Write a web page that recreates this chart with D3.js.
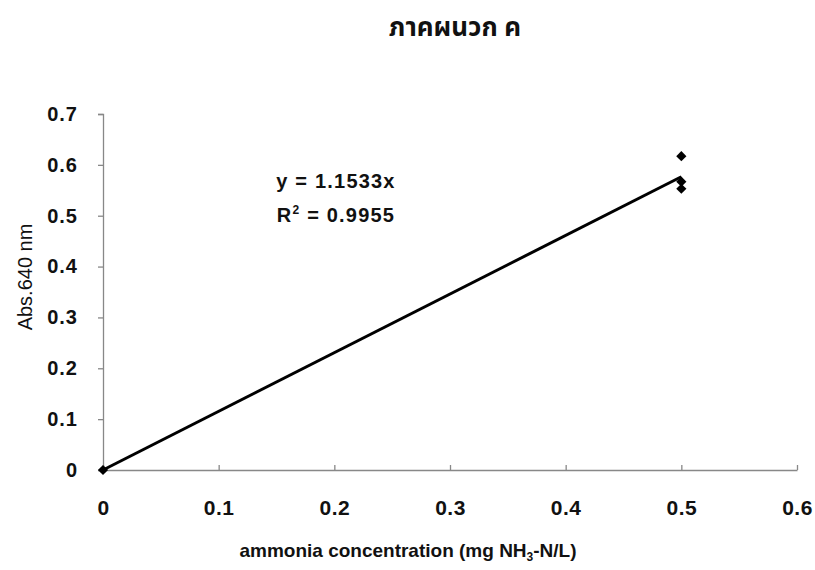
<!DOCTYPE html>
<html><head><meta charset="utf-8">
<script src="https://cdn.jsdelivr.net/npm/d3@7"></script>
<style>body{margin:0;background:#fff}svg{display:block}</style>
</head><body>
<svg id="c" width="815" height="570"></svg>
<script>
const xVals = [0, 0.5, 0.5, 0.5];
const yVals = [0, 0.617, 0.567, 0.553];
const slope = 1.1533;
const r2 = "0.9955";
const xTicks = [0, 0.1, 0.2, 0.3, 0.4, 0.5, 0.6];
const yTicks = [0, 0.1, 0.2, 0.3, 0.4, 0.5, 0.6, 0.7];

const svg = d3.select("#c");
const font = "'Liberation Sans', Arial, sans-serif";
const x = d3.scaleLinear().domain([0, 0.6]).range([103, 797]);
const y = d3.scaleLinear().domain([0, 0.7]).range([470, 114]);

svg.append("text").attr("x", 455).attr("y", 36).attr("text-anchor", "middle")
  .attr("font-family", "'Noto Sans Thai','Noto Sans','DejaVu Sans',sans-serif")
  .attr("font-weight", "bold").attr("font-size", 26).attr("fill", "#111").text("ภาคผนวก ค");

// y axis
const ya = svg.append("g").attr("transform", `translate(${x(0)},0)`)
  .call(d3.axisLeft(y).tickValues(yTicks).tickSize(5).tickPadding(20).tickFormat(d => d === 0 ? "0" : d3.format(".1f")(d)));
ya.select(".domain").attr("stroke", "#888").attr("stroke-width", 1.3);
ya.selectAll(".tick line").attr("stroke", "#888").attr("stroke-width", 1.3);
ya.selectAll("text").attr("font-family", font).attr("font-weight", "bold").attr("font-size", 20).attr("letter-spacing", 1).attr("fill", "#111");

// x axis
const xa = svg.append("g").attr("transform", `translate(0,${y(0)})`)
  .call(d3.axisBottom(x).tickValues(xTicks).tickSizeInner(-5).tickSizeOuter(0).tickPadding(30).tickFormat(d => d === 0 ? "0" : d3.format(".1f")(d)));
xa.select(".domain").attr("stroke", "#888").attr("stroke-width", 1.3);
xa.selectAll(".tick line").attr("stroke", "#888").attr("stroke-width", 1.3);
xa.selectAll("text").attr("font-family", font).attr("font-weight", "bold").attr("font-size", 21).attr("letter-spacing", 0.5).attr("fill", "#111");

// trend line
svg.append("line").attr("x1", x(0)).attr("y1", y(0)).attr("x2", x(0.5)).attr("y2", y(slope * 0.5))
  .attr("stroke", "#000").attr("stroke-width", 3);

// markers
svg.selectAll("path.pt").data(xVals.map((v, i) => [v, yVals[i]])).enter().append("path")
  .attr("class", "pt")
  .attr("d", d3.symbol().type(d3.symbolSquare).size(52))
  .attr("transform", d => `translate(${x(d[0])},${y(d[1])}) rotate(45)`).attr("fill", "#000");

// equation
const eq = svg.append("g").attr("font-family", font).attr("font-weight", "bold").attr("font-size", 20).attr("letter-spacing", 1.2).attr("fill", "#111");
eq.append("text").attr("x", 336).attr("y", 188).attr("text-anchor", "middle").text(`y = ${slope}x`);
const t2 = eq.append("text").attr("x", 336).attr("y", 222).attr("text-anchor", "middle");
t2.append("tspan").text("R");
t2.append("tspan").attr("font-size", 12).attr("dy", -8).text("2");
t2.append("tspan").attr("dy", 8).text(` = ${r2}`);

// axis titles
svg.append("text").attr("transform", "translate(32,277) rotate(-90)").attr("text-anchor", "middle")
  .attr("font-family", font).attr("font-size", 20).attr("fill", "#111").text("Abs.640 nm");
const xt = svg.append("text").attr("x", 408).attr("y", 557).attr("text-anchor", "middle")
  .attr("font-family", font).attr("font-weight", "bold").attr("font-size", 19).attr("fill", "#111");
xt.append("tspan").text("ammonia concentration (mg NH");
xt.append("tspan").attr("font-size", 12).attr("dy", 4).text("3");
xt.append("tspan").attr("dy", -4).text("-N/L)");
</script>
</body></html>
